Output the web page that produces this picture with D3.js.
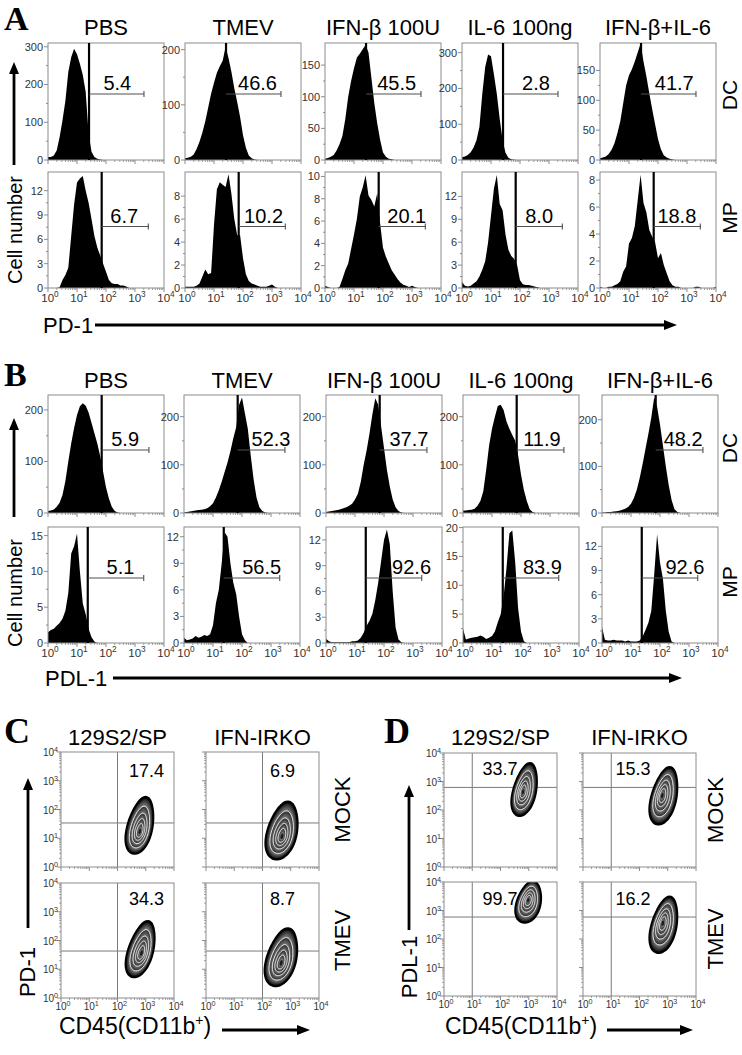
<!DOCTYPE html>
<html><head><meta charset="utf-8">
<script src="https://cdn.jsdelivr.net/npm/d3@7"></script>
<style>body{margin:0;background:#fff}svg{display:block}</style>
</head><body><script>
// ===================== DATA =====================
const treatments = ["PBS", "TMEV", "IFN-β 100U", "IL-6 100ng", "IFN-β+IL-6"];
const cellTypes = ["DC", "MP"];
const binStepLog = 0.1; // histogram bins every 0.1 decade, starting at 10^0

// Panel A: PD-1 histograms (cell counts per bin)
const pd1DcPBS   = [8,8,12,25,60,105,157,233,272,295,280,255,225,180,70,22,8,3,1,0];
const pd1DcTMEV  = [3,4,6,10,20,33,50,70,95,120,140,158,170,180,205,185,160,130,105,78,45,22,8,3,1,0];
const pd1DcIFN   = [2,3,5,8,15,25,38,65,100,125,145,162,168,175,182,170,130,90,58,32,12,5,2,1,0];
const pd1DcIL6   = [8,10,14,22,35,55,92,185,260,295,290,240,185,115,55,20,6,2,1,0];
const pd1DcCombo = [3,4,6,10,17,28,45,65,95,125,142,152,165,180,195,165,140,112,85,60,35,18,8,4,2,1,0];
const pd1MpPBS   = [0,0,0,0,0.1,1.0,1.6,2.5,6.4,10.3,13.0,13.5,13.8,12,10.5,8.5,6.4,5.0,4.0,3.0,2.0,1.0,0.6,0.5,0.5,0.3,0.3,0.2,0];
const pd1MpTMEV  = [0.1,0.1,0.1,0.1,0.2,0.4,1.0,1.6,1.2,1.3,5.5,8.6,9.2,9.0,8.8,9.9,8.2,6.0,4.6,4.6,2.6,1.2,0.6,0.4,0.3,0.2,0.1,0.1,0.1,0.2,0.3,0.1,0];
const pd1MpIFN   = [0.2,0.1,0,0,0,0.1,0.8,1.6,2.2,3.5,4.8,6.2,8.2,9.0,10.1,8.3,7.9,7.3,8.5,5.8,3.6,2.8,2.2,1.6,1.2,0.8,0.5,0.3,0.2,0.1,0.2,0.1,0];
const pd1MpIL6   = [0.8,0.3,0.2,0.3,0.6,0.9,1.5,2.4,3.5,6.0,9.5,13.0,14.8,11.0,10.2,7.0,5.0,4.2,3.8,3.0,1.0,0.5,0.4,0.4,0.3,0.2,0.1,0];
const pd1MpCombo = [0.1,0,0,0.1,0.1,0.2,0.3,0.5,1.2,1.6,3.3,3.7,4.6,6.5,8.4,6.3,5.6,4.3,3.8,3.4,2.2,2.6,1.7,1.1,0.5,0.2,0.1,0.1,0,0,0,0,0,0.1,0.1,0,0,0,0,0,0.1];

// Panel B: PDL-1 histograms
const pdl1DcPBS   = [4,5,7,12,20,35,62,100,135,165,190,207,213,208,195,175,155,135,110,80,50,28,12,4,1,0];
const pdl1DcTMEV  = [1,2,3,4,5,6,7,8,10,14,20,32,47,65,85,105,128,155,178,225,240,207,175,120,70,32,12,4,1,0];
const pdl1DcIFN   = [2,3,4,5,6,8,10,12,15,19,28,40,65,100,130,165,205,238,225,180,135,90,55,28,12,4,1,0];
const pdl1DcIL6   = [5,5,6,7,9,15,25,45,90,140,175,200,222,225,214,190,175,162,150,120,80,48,25,8,2,0];
const pdl1DcCombo = [1,1,2,2,3,4,5,7,9,13,20,32,50,75,105,138,170,205,248,228,190,145,100,60,28,8,2,0];
const pdl1MpPBS   = [1.5,1.8,2.0,2.4,2.8,3.4,4.5,7.0,12.5,13.5,15.3,10,5.5,4.0,2.0,0.8,0.2,0];
const pdl1MpTMEV  = [0.6,0.3,0.4,0.5,0.8,0.6,0.7,0.9,0.8,1.0,2.0,4.5,6.0,9.0,12.5,12.0,9.0,6.8,5.5,3.0,1.0,0.3,0];
const pdl1MpIFN   = [0.5,0.2,0.1,0.1,0.1,0.1,0.1,0.1,0.1,0.2,0.2,0.3,0.6,1.2,2.0,2.6,3.4,5.0,7.0,9.5,12.0,13.2,11.5,6.0,1.8,0.4,0.1,0];
const pdl1MpIL6   = [2.5,0.6,0.8,0.9,1.0,1.1,1.3,1.1,0.7,0.9,1.2,2.0,3.6,5.0,8.0,13.0,19.0,19.5,14.0,6.0,2.0,0.3,0];
const pdl1MpCombo = [2.0,0.4,0.3,0.3,0.4,0.3,0.3,0.3,0.2,0.3,0.2,0.2,0.2,0.3,0.8,1.6,2.5,4.0,8.5,13.5,10.0,8.0,4.0,1.4,0.2,0];

// y-axis ticks / maxima per histogram
const pd1DcTicks  = [[0,100,200,300],[0,100,200],[0,50,100,150],[0,100,200,300],[0,50,100,150]];
const pd1DcMax    = [310,212,185,327,196];
const pd1MpTicks  = [[0,3,6,9,12],[0,2,4,6,8],[0,2,4,6,8,10],[0,3,6,9,12],[0,2,4,6,8]];
const pd1MpMax    = [14.3,10.1,10.4,15.2,8.6];
const pdl1DcTicks = [[0,100,200],[0,100,200],[0,100,200],[0,100,200],[0,100,200]];
const pdl1DcMax   = [229,245,245,245,253];
const pdl1MpTicks = [[0,5,10,15],[0,3,6,9,12],[0,3,6,9,12],[0,5,10,15,20],[0,3,6,9,12]];
const pdl1MpMax   = [16.2,13.1,13.5,20.1,14.4];

// gates (fluorescence channel) and percentages
const pd1DcGate  = [26, 2040];
const pd1MpGate  = [71, 2880];
const pdl1DcGate = [71, 3020];
const pdl1MpGate = [23.5, 2000];
const pd1DcPct  = ["5.4","46.6","45.5","2.8","41.7"];
const pd1MpPct  = ["6.7","10.2","20.1","8.0","18.8"];
const pdl1DcPct = ["5.9","52.3","37.7","11.9","48.2"];
const pdl1MpPct = ["5.1","56.5","92.6","83.9","92.6"];

// Panels C/D: contour populations (log10 units); order: 129 MOCK, IRKO MOCK, 129 TMEV, IRKO TMEV
const genotypes = ["129S2/SP", "IFN-IRKO"];
const conditions = ["MOCK", "TMEV"];
const pd1CenterX  = [2.80, 2.70, 2.83, 2.68];
const pd1CenterY  = [1.45, 1.27, 1.70, 1.42];
const pd1SpreadX  = [0.44, 0.52, 0.44, 0.52];
const pd1SpreadY  = [0.98, 1.00, 0.97, 1.00];
const pd1Tilt     = [0.20, 0.20, 0.25, 0.22];
const pd1CoreX    = [2.79, 2.69, 2.85, 2.66];
const pd1CoreY    = [1.22, 1.05, 1.55, 1.20];
const pd1QuadX    = 100;
const pd1QuadY    = [34, 34, 43, 43];
const pd1Pct      = ["17.4","6.9","34.3","8.7"];

const pdl1CenterX = [2.86, 2.87, 3.00, 2.87];
const pdl1CenterY = [2.72, 2.50, 3.30, 2.50];
const pdl1SpreadX = [0.40, 0.44, 0.42, 0.44];
const pdl1SpreadY = [0.92, 1.00, 0.72, 0.98];
const pdl1Tilt    = [0.20, 0.20, 0.20, 0.20];
const pdl1CoreX   = [2.79, 2.80, 2.98, 2.82];
const pdl1CoreY   = [2.63, 2.51, 3.37, 2.56];
const pdl1QuadX   = 10;
const pdl1QuadY   = [620, 620, 590, 590];
const pdl1Pct     = ["33.7","15.3","99.7","16.2"];

// ===================== DRAWING =====================
const FONT = "'Liberation Sans', Arial, Helvetica, sans-serif";
const SERIF = "'Liberation Serif', 'Times New Roman', serif";
const AXIS = "#8c8c8c";
const svg = d3.select("body").append("svg").attr("width", 742).attr("height", 1055)
  .style("font-family", FONT);
const defs = svg.append("defs");
let clipN = 0;
function makeClip(x, y, w, h) {
  const id = "c" + (clipN++);
  defs.append("clipPath").attr("id", id).append("rect").attr("x", x).attr("y", y).attr("width", w).attr("height", h);
  return `url(#${id})`;
}
const decades = [1, 10, 100, 1000, 10000];
const minors = [];
[1, 10, 100, 1000].forEach(d => { for (let k = 2; k <= 9; k++) minors.push(k * d); });

function supText(g, x, y, exp, size, anchor) {
  const t = g.append("text").attr("x", x).attr("y", y).attr("font-size", size)
    .attr("text-anchor", anchor).attr("fill", "#333");
  t.append("tspan").text("10");
  t.append("tspan").attr("font-size", size * 0.72).attr("dy", -size * 0.4).text(exp);
}

function logXAxis(g, xs, yBase, showLabels, size) {
  decades.forEach(v => g.append("line").attr("x1", xs(v)).attr("x2", xs(v)).attr("y1", yBase).attr("y2", yBase + 4)
    .attr("stroke", AXIS).attr("stroke-width", 1));
  minors.forEach(v => g.append("line").attr("x1", xs(v)).attr("x2", xs(v)).attr("y1", yBase).attr("y2", yBase + 2)
    .attr("stroke", AXIS).attr("stroke-width", 0.8));
  if (showLabels) decades.forEach(v => supText(g, xs(v) + 2, yBase + size + 2, String(Math.round(Math.log10(v))), size, "middle"));
}

function histogram(x0, y0, w, h, values, yMax, yTicks, gate, gateFrac, pct, pctLog, showX) {
  const xs = d3.scaleLog().domain([1, 1e4]).range([x0, x0 + w]);
  const ys = d3.scaleLinear().domain([0, yMax]).range([y0 + h, y0]);
  const g = svg.append("g");
  const area = d3.area()
    .x((d, i) => xs(Math.pow(10, i * binStepLog)))
    .y0(ys(0)).y1(d => ys(d));
  g.append("path").datum(values).attr("d", area).attr("fill", "#000").attr("clip-path", makeClip(x0, y0, w, h));
  g.append("rect").attr("x", x0).attr("y", y0).attr("width", w).attr("height", h)
    .attr("fill", "none").attr("stroke", AXIS).attr("stroke-width", 1);
  // gate
  const gx = xs(gate[0]), hx = xs(gate[1]), gy = y0 + h * gateFrac;
  g.append("line").attr("x1", gx).attr("x2", gx).attr("y1", y0).attr("y2", y0 + h).attr("stroke", "#000").attr("stroke-width", 2.2);
  g.append("line").attr("x1", gx).attr("x2", hx).attr("y1", gy).attr("y2", gy).attr("stroke", "#505050").attr("stroke-width", 1.1);
  g.append("line").attr("x1", hx).attr("x2", hx).attr("y1", gy - 3).attr("y2", gy + 3).attr("stroke", "#505050").attr("stroke-width", 1.1);
  g.append("text").attr("x", xs(Math.pow(10, pctLog))).attr("y", gy - 4).attr("text-anchor", "middle")
    .attr("font-size", 20).attr("fill", "#000").text(pct);
  // y axis
  yTicks.forEach((v, i) => {
    g.append("line").attr("x1", x0 - 4).attr("x2", x0).attr("y1", ys(v)).attr("y2", ys(v)).attr("stroke", AXIS);
    g.append("text").attr("x", x0 - 5).attr("y", ys(v)).attr("dy", "0.36em").attr("text-anchor", "end")
      .attr("font-size", 11).attr("fill", "#333").text(v);
    if (i < yTicks.length - 1) {
      const m = (v + yTicks[i + 1]) / 2;
      g.append("line").attr("x1", x0 - 2).attr("x2", x0).attr("y1", ys(m)).attr("y2", ys(m)).attr("stroke", AXIS);
    }
  });
  logXAxis(g, xs, y0 + h, showX, 11.5);
}

function arrow(x1, y1, x2, y2, width, headLen, headHalf) {
  const a = Math.atan2(y2 - y1, x2 - x1);
  const bx = x2 - headLen * Math.cos(a), by = y2 - headLen * Math.sin(a);
  svg.append("line").attr("x1", x1).attr("y1", y1).attr("x2", bx).attr("y2", by)
    .attr("stroke", "#000").attr("stroke-width", width);
  const px = -Math.sin(a) * headHalf, py = Math.cos(a) * headHalf;
  svg.append("path").attr("d", `M${x2},${y2}L${bx + px},${by + py}L${bx - px},${by - py}Z`).attr("fill", "#000");
}

function label(x, y, txt, size, opts = {}) {
  const t = svg.append("text").attr("x", x).attr("y", y).attr("font-size", size).attr("fill", "#000")
    .attr("text-anchor", opts.anchor || "middle").text(txt);
  if (opts.rotate) t.attr("transform", `rotate(-90,${x},${y})`);
  if (opts.serif) t.style("font-family", SERIF).attr("font-weight", "bold");
  return t;
}

// ---------- Panels A & B ----------
const histW = 116;
const panelsAB = [
  { letterY: 30, titleY: 35, cols: [48, 185, 325, 462, 600],
    rows: [
      { y: 43, h: 117, data: [pd1DcPBS, pd1DcTMEV, pd1DcIFN, pd1DcIL6, pd1DcCombo], max: pd1DcMax, ticks: pd1DcTicks,
        gate: pd1DcGate, frac: 0.436, pct: pd1DcPct, pctLog: [2.39, 2.5, 2.47, 2.55, 2.56], showX: false, labelY: 95 },
      { y: 172, h: 116, data: [pd1MpPBS, pd1MpTMEV, pd1MpIFN, pd1MpIL6, pd1MpCombo], max: pd1MpMax, ticks: pd1MpTicks,
        gate: pd1MpGate, frac: 0.47, pct: pd1MpPct, pctLog: [2.63, 2.71, 2.82, 2.66, 2.65], showX: true, labelY: 218 } ],
    letter: "A", marker: "PD-1", markerX: 43, markerY: 333, lineX0: 95, lineX1: 677, lineY: 325,
    vArrow: [165, 62], cellY: 230 },
  { letterY: 386, titleY: 388, cols: [48, 184, 326, 463, 602],
    rows: [
      { y: 395, h: 118, data: [pdl1DcPBS, pdl1DcTMEV, pdl1DcIFN, pdl1DcIL6, pdl1DcCombo], max: pdl1DcMax, ticks: pdl1DcTicks,
        gate: pdl1DcGate, frac: 0.466, pct: pdl1DcPct, pctLog: [2.66, 3.0, 2.86, 2.72, 2.8], showX: false, labelY: 448 },
      { y: 527, h: 116, data: [pdl1MpPBS, pdl1MpTMEV, pdl1MpIFN, pdl1MpIL6, pdl1MpCombo], max: pdl1MpMax, ticks: pdl1MpTicks,
        gate: pdl1MpGate, frac: 0.44, pct: pdl1MpPct, pctLog: [2.5, 2.68, 2.95, 2.74, 2.86], showX: true, labelY: 582 } ],
    letter: "B", marker: "PDL-1", markerX: 45, markerY: 686, lineX0: 113, lineX1: 682, lineY: 678,
    vArrow: [517, 418], cellY: 593 }
];

panelsAB.forEach(P => {
  label(4, P.letterY, P.letter, 34, { anchor: "start", serif: true });
  treatments.forEach((t, i) => label(P.cols[i] + histW / 2, P.titleY, t, 22));
  P.rows.forEach((R, ri) => {
    R.data.forEach((vals, i) => histogram(P.cols[i], R.y, histW, R.h, vals, R.max[i], R.ticks[i], R.gate, R.frac,
      R.pct[i], R.pctLog[i], R.showX));
    label(737, R.labelY, cellTypes[ri], 21, { rotate: true });
  });
  label(P.markerX, P.markerY, P.marker, 22, { anchor: "start" });
  arrow(P.lineX0, P.lineY, P.lineX1, P.lineY, 3, 13, 5);
  arrow(14, P.vArrow[0], 14, P.vArrow[1], 2.8, 12, 5);
  label(22, P.cellY, "Cell number", 20, { rotate: true });
});

// ---------- Panels C & D ----------
function contourPlot(x0, y0, w, h, blob, qx, qy, pct, pctLog, showY, showX) {
  const xs = d3.scaleLog().domain([1, 1e4]).range([x0, x0 + w]);
  const ys = d3.scaleLog().domain([1, 1e4]).range([y0 + h, y0]);
  const g = svg.append("g");
  g.append("rect").attr("x", x0).attr("y", y0).attr("width", w).attr("height", h).attr("fill", "#fff");
  g.append("line").attr("x1", xs(qx)).attr("x2", xs(qx)).attr("y1", y0).attr("y2", y0 + h).attr("stroke", "#7a7a7a").attr("stroke-width", 1);
  g.append("line").attr("x1", x0).attr("x2", x0 + w).attr("y1", ys(qy)).attr("y2", ys(qy)).attr("stroke", "#7a7a7a").attr("stroke-width", 1);
  const bg = g.append("g").attr("clip-path", makeClip(x0, y0, w, h));
  const line = d3.line().curve(d3.curveCardinalClosed.tension(0.3));
  const ring = s => {
    const cx = blob.coreX + s * (blob.cx - blob.coreX), cy = blob.coreY + s * (blob.cy - blob.coreY);
    return line(d3.range(48).map(j => {
      const t = j / 48 * 2 * Math.PI;
      const wf = 1 - 0.16 * Math.sin(t);
      const lx = cx + s * blob.rx * wf * Math.cos(t) + blob.k * s * blob.ry * Math.sin(t);
      const ly = cy + s * blob.ry * Math.sin(t);
      return [xs(Math.pow(10, lx)), ys(Math.pow(10, ly))];
    }));
  };
  const bands = [1, 0.74, 0.54, 0.38, 0.24, 0.12];
  bg.append("path").attr("d", ring(1)).attr("fill", "#000").attr("stroke", "#000").attr("stroke-width", 2.6);
  for (let s = 0.95; s > 0.04; s -= 0.025) {
    let b = 0; while (b < bands.length - 2 && s <= bands[b + 1]) b++;
    let col;
    if (s <= bands[bands.length - 1]) col = "#1e1e1e";
    else {
      const t = (bands[b] - s) / (bands[b] - bands[b + 1]);
      const lo = b === 0 ? 10 : 45, hi = b === 0 ? 135 : 125;
      const v = Math.round(lo + (hi - lo) * t);
      col = `rgb(${v},${v},${v})`;
    }
    bg.append("path").attr("d", ring(s)).attr("fill", col);
  }
  bands.slice(1, 5).forEach(s => bg.append("path").attr("d", ring(s)).attr("fill", "none").attr("stroke", "#f2f2f2").attr("stroke-width", 0.9));
  g.append("rect").attr("x", x0).attr("y", y0).attr("width", w).attr("height", h).attr("fill", "none").attr("stroke", AXIS);
  // axes
  logXAxis(g, xs, y0 + h, showX, 10);
  decades.forEach(v => {
    g.append("line").attr("x1", x0 - 4).attr("x2", x0).attr("y1", ys(v)).attr("y2", ys(v)).attr("stroke", AXIS);
    if (showY) supText(g, x0 - 3, ys(v) + 4, String(Math.round(Math.log10(v))), 10, "end");
  });
  minors.forEach(v => g.append("line").attr("x1", x0 - 2).attr("x2", x0).attr("y1", ys(v)).attr("y2", ys(v)).attr("stroke", AXIS).attr("stroke-width", 0.8));
  g.append("text").attr("x", xs(Math.pow(10, pctLog[0]))).attr("y", ys(Math.pow(10, pctLog[1])))
    .attr("text-anchor", "middle").attr("font-size", 18).attr("fill", "#000").text(pct);
}

const panelsCD = [
  { letter: "C", letterX: 4, cols: [61, 206], rows: [752, 883], w: 113, h: 115,
    cx: pd1CenterX, cy: pd1CenterY, rx: pd1SpreadX, ry: pd1SpreadY, k: pd1Tilt, corex: pd1CoreX, corey: pd1CoreY,
    qx: pd1QuadX, qy: pd1QuadY, pct: pd1Pct, pctX: [3.03, 2.71], pctY: [3.14, 3.23],
    yLabel: "PD-1", yLabelX: 35, yLabelY: 972, arrowX: 28, arrowY: [928, 778],
    rowLabelX: 350, xLabelX: 135, xArrow: [222, 310] },
  { letter: "D", letterX: 384, cols: [444, 583], rows: [753, 882], w: 113, h: 114,
    cx: pdl1CenterX, cy: pdl1CenterY, rx: pdl1SpreadX, ry: pdl1SpreadY, k: pdl1Tilt, corex: pdl1CoreX, corey: pdl1CoreY,
    qx: pdl1QuadX, qy: pdl1QuadY, pct: pdl1Pct, pctX: [1.98, 1.77], pctY: [3.22, 3.2],
    yLabel: "PDL-1", yLabelX: 417, yLabelY: 967, arrowX: 409, arrowY: [930, 785],
    rowLabelX: 723, xLabelX: 521, xArrow: [607, 693] }
];

panelsCD.forEach(P => {
  label(P.letterX, 743, P.letter, 36, { anchor: "start", serif: true });
  genotypes.forEach((gname, c) => label(P.cols[c] + P.w / 2, 745, gname, 22));
  conditions.forEach((cond, r) => {
    genotypes.forEach((gname, c) => {
      const i = r * 2 + c;
      const blob = { cx: P.cx[i], cy: P.cy[i], rx: P.rx[i], ry: P.ry[i], k: P.k[i], coreX: P.corex[i], coreY: P.corey[i] };
      contourPlot(P.cols[c], P.rows[r], P.w, P.h, blob, P.qx, P.qy[i], P.pct[i], [P.pctX[c], P.pctY[r]], c === 0, r === 1);
    });
    label(P.rowLabelX, P.rows[r] + P.h / 2, cond, 22, { rotate: true });
  });
  label(P.yLabelX, P.yLabelY, P.yLabel, 22, { rotate: true });
  arrow(P.arrowX, P.arrowY[0], P.arrowX, P.arrowY[1], 2.8, 12, 5);
  const xl = svg.append("text").attr("x", P.xLabelX).attr("y", 1034).attr("font-size", 23).attr("text-anchor", "middle").attr("fill", "#000");
  xl.append("tspan").text("CD45(CD11b");
  xl.append("tspan").attr("font-size", 14).attr("dy", -9).text("+");
  xl.append("tspan").attr("dy", 9).text(")");
  arrow(P.xArrow[0], 1030, P.xArrow[1], 1030, 2.8, 13, 5);
});
</script></body></html>
